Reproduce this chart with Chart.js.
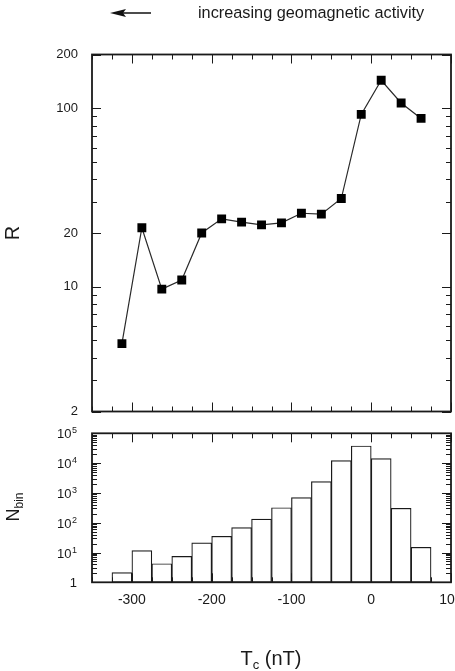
<!DOCTYPE html>
<html lang="en">
<head>
    <meta charset="UTF-8">
    <script src="https://cdn.jsdelivr.net/npm/chart.js@4.4.1/dist/chart.umd.min.js"></script>
    <title>R vs Tc</title>
    <style>
        body { margin: 0; background: #fff; overflow: hidden; }
        #wrap { position: relative; width: 455px; height: 671px; overflow: hidden; font-family: "Liberation Sans", Arial, sans-serif; color: #1a1a1a; }
        canvas { position: absolute; left: 0; top: 0; }
        .lbl { position: absolute; white-space: nowrap; }
        .rot { transform: translate(-50%, -50%) rotate(-90deg); line-height: 1; }
    </style>
</head>
<body>
<div id="wrap">
    <canvas id="topChart" width="475" height="671"></canvas>
    <canvas id="botChart" width="475" height="671"></canvas>

    <svg class="lbl" style="left:0;top:0" width="200" height="30">
        <line x1="120" y1="13" x2="151" y2="13" stroke="#111" stroke-width="1.5"/>
        <polygon points="110,13 126,9 123,13 126,17" fill="#111"/>
    </svg>
    <div class="lbl" style="left:198px;top:4px;font-size:16.3px;line-height:16px">increasing geomagnetic activity</div>
    <div class="lbl rot" style="left:12px;top:233px;font-size:20px">R</div>
    <div class="lbl rot" style="left:13px;top:507px;font-size:18px">N<span style="font-size:12px;position:relative;top:4px">bin</span></div>
    <div class="lbl" style="left:171px;width:200px;top:648px;font-size:20px;line-height:20px;text-align:center">T<span style="font-size:13px;position:relative;top:4px">c</span> (nT)</div>
</div>

<script>
    // bin centres of the 25 nT Tc bins
    const binCenters = [-312.5, -287.5, -262.5, -237.5, -212.5, -187.5, -162.5, -137.5,
                        -112.5, -87.5, -62.5, -37.5, -12.5, 12.5, 37.5, 62.5];
    // R in each bin (top panel)
    const ratioR = [4.8, 21.4, 9.7, 10.9, 20.0, 24.0, 23.0, 22.2, 22.8, 25.8, 25.5, 31.2, 92.4, 143.5, 107, 87.7];
    // number of samples in each bin (bottom panel)
    const binCounts = [2.1, 11.5, 4.2, 7.4, 21, 35, 68, 133, 318, 690, 2380, 12050, 37500, 14060, 304, 14.9];

    const xTicks = [-300, -200, -100, 0, 100];
    const rTicks = [2, 10, 20, 100, 200];
    const nTicks = [1, 10, 100, 1000, 10000, 100000];

    const X_MIN = -350, X_MAX = 100;
    const INK = '#1a1a1a';
    const FONT = '"Liberation Sans", Arial, sans-serif';

    // box around the plot + inward ticks on all four sides
    function frameTicks(yMajor) {
        return {
            id: 'frameTicks',
            afterDatasetsDraw(chart) {
                const ctx = chart.ctx, a = chart.chartArea;
                const xs = chart.scales.x, ys = chart.scales.y;
                ctx.save();
                ctx.strokeStyle = INK;
                ctx.lineWidth = 1;
                ctx.beginPath();
                for (let v = X_MIN; v <= X_MAX; v += 25) {
                    const px = Math.round(xs.getPixelForValue(v)) + 0.5;
                    const len = v % 100 === 0 ? 9 : 5;
                    ctx.moveTo(px, a.top); ctx.lineTo(px, a.top + len);
                    ctx.moveTo(px, a.bottom); ctx.lineTo(px, a.bottom - len);
                }
                const yMin = ys.min, yMax = ys.max;
                for (let e = Math.floor(Math.log10(yMin)); e <= Math.ceil(Math.log10(yMax)); e++) {
                    for (let k = 1; k <= 9; k++) {
                        const v = k * Math.pow(10, e);
                        if (v < yMin * 0.999 || v > yMax * 1.001) continue;
                        const py = Math.round(ys.getPixelForValue(v)) + 0.5;
                        const len = yMajor(v) ? 9 : 5;
                        ctx.moveTo(a.left, py); ctx.lineTo(a.left + len, py);
                        ctx.moveTo(a.right, py); ctx.lineTo(a.right - len, py);
                    }
                }
                ctx.stroke();
                ctx.lineWidth = 1.8;
                ctx.strokeRect(a.left, a.top, a.right - a.left, a.bottom - a.top);
                ctx.restore();
            }
        };
    }

    const isMajorR = v => rTicks.some(t => Math.abs(t - v) < 1e-6 * t);
    const isDecade = v => Math.abs(Math.log10(v) - Math.round(Math.log10(v))) < 1e-6;

    new Chart(document.getElementById('topChart'), {
        type: 'line',
        data: {
            datasets: [{
                data: binCenters.map((x, i) => ({x: x, y: ratioR[i]})),
                borderColor: '#2a2a2a',
                borderWidth: 1.2,
                pointStyle: 'rect',
                pointRadius: 6.3,
                pointBackgroundColor: '#000',
                pointBorderWidth: 0,
                tension: 0
            }]
        },
        options: {
            responsive: false,
            animation: false,
            events: [],
            layout: { padding: { top: 54.5, left: 0, right: 24, bottom: 259.5 } },
            plugins: { legend: { display: false }, tooltip: { enabled: false } },
            scales: {
                x: { type: 'linear', min: X_MIN, max: X_MAX, display: false },
                y: {
                    type: 'logarithmic', min: 2, max: 200,
                    grid: { display: false, drawTicks: false },
                    border: { display: false },
                    afterBuildTicks: s => { s.ticks = rTicks.map(v => ({value: v})); },
                    afterFit: s => { s.width = 92; },
                    ticks: { autoSkip: false, padding: 14, color: INK, font: { family: FONT, size: 13 },
                             callback: v => String(v) }
                }
            }
        },
        plugins: [frameTicks(isMajorR)]
    });

    // superscript decade labels for the bottom y axis
    const decadeLabels = {
        id: 'decadeLabels',
        afterDraw(chart) {
            const ctx = chart.ctx, ys = chart.scales.y;
            const right = chart.chartArea.left - 15;
            ctx.save();
            ctx.fillStyle = INK;
            ctx.textBaseline = 'alphabetic';
            nTicks.forEach(v => {
                const py = ys.getPixelForValue(v);
                const e = Math.round(Math.log10(v));
                ctx.font = '13px ' + FONT;
                if (e === 0) {
                    ctx.textAlign = 'right';
                    ctx.fillText('1', right, py + 5);
                    return;
                }
                ctx.font = '9px ' + FONT;
                const sw = ctx.measureText(String(e)).width;
                ctx.textAlign = 'right';
                ctx.fillText(String(e), right, py);
                ctx.font = '13px ' + FONT;
                ctx.fillText('10', right - sw - 0.5, py + 5);
            });
            ctx.restore();
        }
    };

    new Chart(document.getElementById('botChart'), {
        type: 'bar',
        data: {
            datasets: [{
                data: binCenters.map((x, i) => ({x: x, y: binCounts[i]})),
                backgroundColor: '#fff',
                borderColor: '#1a1a1a',
                borderWidth: 1.2,
                borderSkipped: false,
                barPercentage: 1,
                categoryPercentage: 1
            }]
        },
        options: {
            responsive: false,
            animation: false,
            events: [],
            layout: { padding: { top: 433.3, left: 0, right: 24, bottom: 58.7 } },
            plugins: { legend: { display: false }, tooltip: { enabled: false } },
            scales: {
                x: {
                    type: 'linear', min: X_MIN, max: X_MAX, offset: false,
                    grid: { display: false, drawTicks: false },
                    border: { display: false },
                    afterBuildTicks: s => { s.ticks = xTicks.map(v => ({value: v})); },
                    afterFit: s => { s.height = 30; },
                    ticks: { autoSkip: false, maxRotation: 0, padding: 9, color: INK, font: { family: FONT, size: 14 },
                             callback: v => String(v) }
                },
                y: {
                    type: 'logarithmic', min: 1, max: 100000,
                    grid: { display: false, drawTicks: false },
                    border: { display: false },
                    afterFit: s => { s.width = 92; },
                    ticks: { display: false }
                }
            }
        },
        plugins: [frameTicks(isDecade), decadeLabels]
    });
</script>
</body>
</html>
